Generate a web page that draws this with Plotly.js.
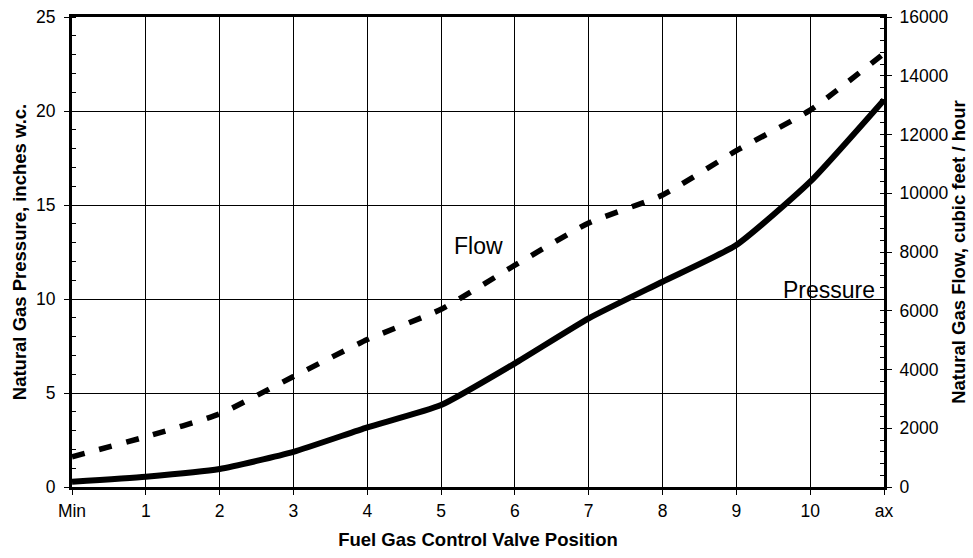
<!DOCTYPE html>
<html>
<head>
<meta charset="utf-8">
<script src="https://cdn.plot.ly/plotly-3.0.1.min.js"></script>
<style>html,body{margin:0;padding:0;background:#fff;}#chart{width:973px;height:558px;}</style>
</head>
<body>
<div id="chart"></div>
<script>
// Valve positions (numeric index) and their tick labels
const positions = [0, 1, 2, 3, 4, 5, 6, 7, 8, 9, 10, 11];
const positionLabels = ['Min', '1', '2', '3', '4', '5', '6', '7', '8', '9', '10', 'ax'];
// Natural gas pressure, inches w.c.
const pressure = [0.28, 0.55, 0.96, 1.87, 3.17, 4.36, 6.58, 8.97, 10.92, 12.87, 16.24, 20.59];
// Natural gas flow, cubic feet / hour
const flow = [1030, 1710, 2490, 3760, 5020, 6050, 7550, 8990, 9940, 11450, 12830, 14760];

const FONT = 'Liberation Sans, Arial, sans-serif';

const traces = [
  {
    x: positions, y: pressure, type: 'scatter', mode: 'lines', name: 'Pressure',
    line: {color: '#000', width: 6, shape: 'spline', smoothing: 0.5},
    yaxis: 'y', cliponaxis: true
  },
  {
    x: positions, y: flow, type: 'scatter', mode: 'lines', name: 'Flow',
    line: {color: '#000', width: 5.5, dash: '13px,15px', shape: 'spline', smoothing: 0.5},
    yaxis: 'y2', cliponaxis: true
  }
];

const layout = {
  width: 973, height: 558,
  margin: {l: 72, r: 89, t: 17, b: 71, pad: 0},
  paper_bgcolor: '#fff', plot_bgcolor: '#fff',
  showlegend: false,
  font: {family: FONT, color: '#000', size: 17.5},
  xaxis: {
    range: [0, 11], tickmode: 'array', tickvals: positions, ticktext: positionLabels,
    showgrid: true, gridcolor: '#000', gridwidth: 1,
    zeroline: false, showline: true, linecolor: '#000', linewidth: 3, mirror: true,
    ticks: 'outside', ticklen: 5, tickwidth: 1, tickcolor: '#000',
    ticklabelstandoff: 1,
    tickfont: {family: FONT, size: 17.5, color: '#000'},
    title: {text: '<b>Fuel Gas Control Valve Position</b>', font: {family: FONT, size: 18.5, color: '#000'}, standoff: 14}
  },
  yaxis: {
    range: [0, 25], dtick: 5, tick0: 0,
    showgrid: true, gridcolor: '#000', gridwidth: 1,
    zeroline: false, showline: true, linecolor: '#000', linewidth: 3, mirror: true,
    ticks: 'outside', ticklen: 5, tickwidth: 1, tickcolor: '#000',
    ticklabelstandoff: 5,
    minor: {dtick: 1, ticks: 'inside', ticklen: 4, tickcolor: '#000', showgrid: false},
    tickfont: {family: FONT, size: 17.5, color: '#000'},
    title: {text: '<b>Natural Gas Pressure, inches w.c.</b>', font: {family: FONT, size: 18.5, color: '#000'}, standoff: 5}
  },
  yaxis2: {
    range: [0, 16000], dtick: 2000, tick0: 0, overlaying: 'y', side: 'right',
    tickformat: 'd',
    showgrid: false, zeroline: false, showline: true, linecolor: '#000', linewidth: 3,
    ticks: 'outside', ticklen: 5, tickwidth: 1, tickcolor: '#000',
    ticklabelstandoff: 4,
    minor: {dtick: 400, ticks: 'inside', ticklen: 4, tickcolor: '#000', showgrid: false},
    tickfont: {family: FONT, size: 17.5, color: '#000'},
    title: {text: '<b>Natural Gas Flow, cubic feet / hour</b>', font: {family: FONT, size: 18.5, color: '#000'}, standoff: 0}
  },
  annotations: [
    {x: 5.5, y: 12.8, xref: 'x', yref: 'y', text: 'Flow', showarrow: false,
     font: {family: FONT, size: 23, color: '#000'}},
    {x: 10.25, y: 10.5, xref: 'x', yref: 'y', text: 'Pressure', showarrow: false,
     font: {family: FONT, size: 23, color: '#000'}}
  ]
};

Plotly.newPlot('chart', traces, layout, {displayModeBar: false, staticPlot: true});
</script>
</body>
</html>
